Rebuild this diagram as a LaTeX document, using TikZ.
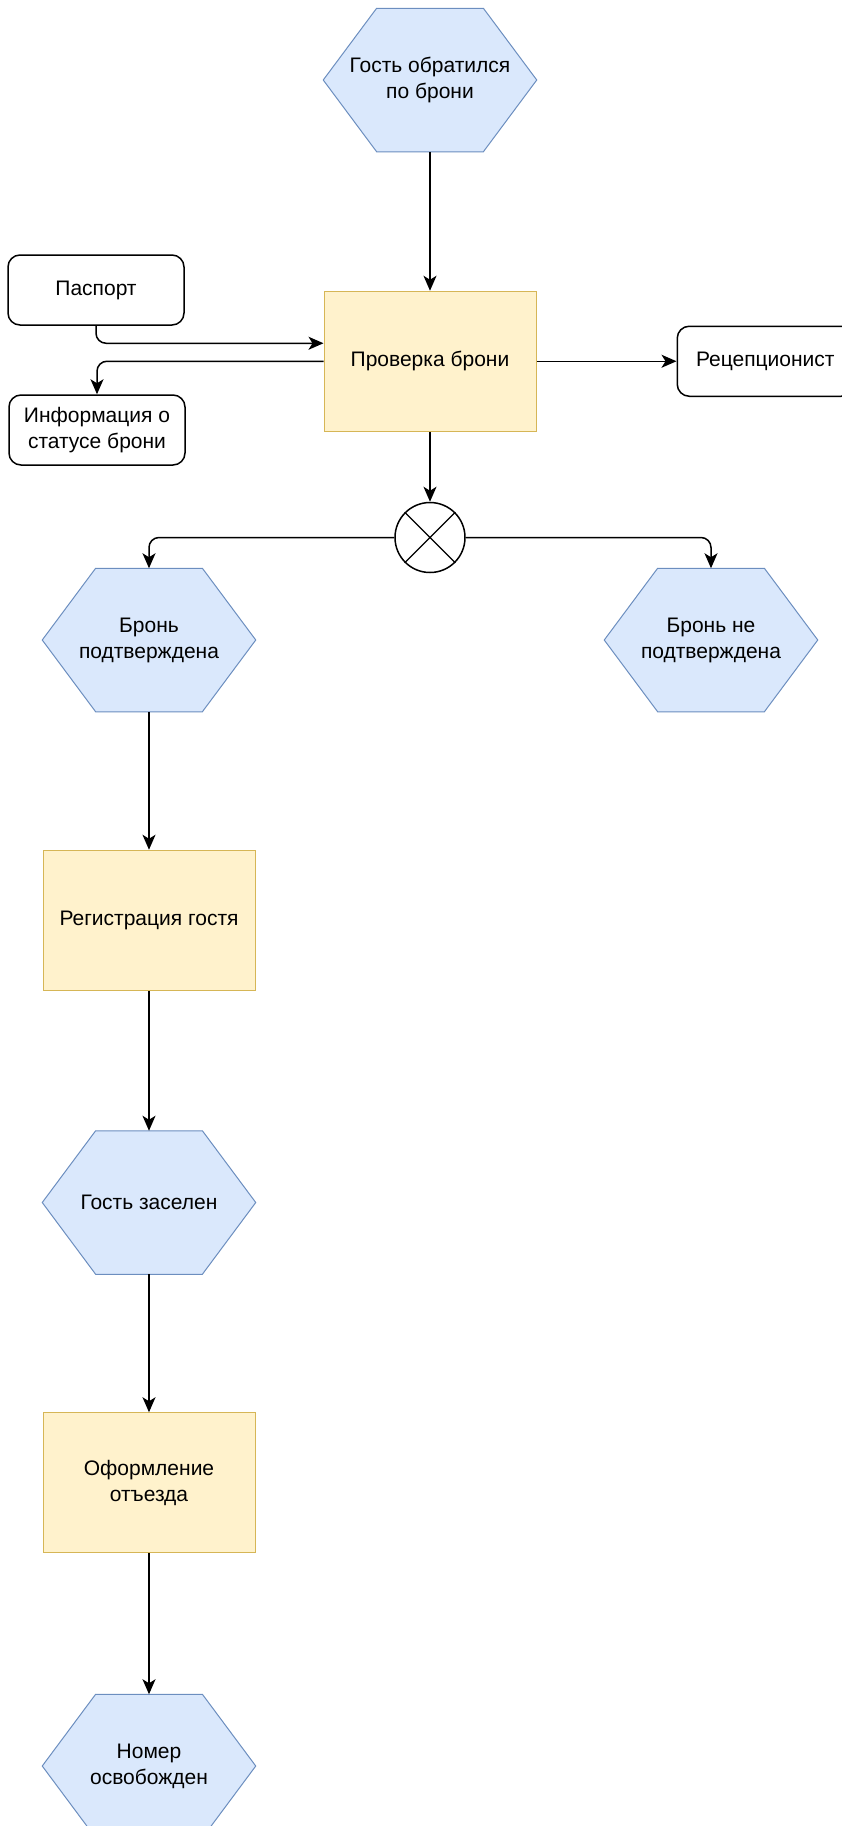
\documentclass[tikz,border=0pt]{standalone}
\usepackage{fontspec}
\setmainfont{Liberation Sans}
\usetikzlibrary{arrows.meta,positioning,calc,backgrounds}
\definecolor{evfill}{HTML}{DAE8FC}
\definecolor{evline}{HTML}{6C8EBF}
\definecolor{fnfill}{HTML}{FFF2CC}
\definecolor{fnline}{HTML}{D6B656}

\begin{document}
\begin{tikzpicture}[
    x=1pt, y=1pt,
    >={Stealth[length=15pt, width=13pt, inset=4pt]},
    line width=1.5pt,
    font=\fontsize{21}{26}\selectfont,
    evbox/.style={minimum width=212pt, minimum height=142pt, align=center, inner sep=0pt},
    fnbox/.style={draw=fnline, line width=1pt, fill=fnfill, minimum width=212pt, minimum height=140pt, align=center},
    docbox/.style={draw, rounded corners=12pt, fill=white, minimum width=176pt, minimum height=70pt, align=center, inner sep=2pt},
    xorgate/.style={draw, circle, minimum size=70pt, inner sep=0pt},
    flow/.style={->, rounded corners=10pt}
]

    \useasboundingbox (0,0) rectangle (842,-1826);

    \node[evbox] (start) at (430,-80) {Гость обратился\\по брони};
    \node[fnbox, below=139pt of start] (check) {Проверка брони};
    \node[xorgate, below=70pt of check] (xor) {};

    \node[docbox] (pass) at (96,-290) {Паспорт};
    \node[docbox] (status) at (97,-430) {Информация о\\статусе брони};
    \node[docbox, right=140pt of check] (recep) {Рецепционист};

    \node[evbox] (conf) at (149,-640) {Бронь\\подтверждена};
    \node[evbox] (notconf) at (711,-640) {Бронь не\\подтверждена};

    \node[fnbox, below=138pt of conf] (register) {Регистрация гостя};
    \node[evbox, below=140pt of register] (settled) {Гость заселен};
    \node[fnbox, below=138pt of settled] (checkout) {Оформление\\отъезда};
    \node[evbox, below=141pt of checkout] (freed) {Номер\\освобожден};

    \begin{scope}[on background layer]
        \foreach \ev in {start, conf, notconf, settled, freed}
            \draw[evline, fill=evfill, line width=1pt]
                (\ev.west) -- ($(\ev.north west)!0.25!(\ev.north east)$)
                -- ($(\ev.north west)!0.75!(\ev.north east)$) -- (\ev.east)
                -- ($(\ev.south west)!0.75!(\ev.south east)$)
                -- ($(\ev.south west)!0.25!(\ev.south east)$) -- cycle;
    \end{scope}

    \draw[line width=1.2pt] (xor.north west) -- (xor.south east)
        (xor.north east) -- (xor.south west);

    \draw[flow] (start) -- (check);
    \draw[flow] (pass.south) |- ($(check.west)+(0,18)$);
    \draw[flow] (check.west) -| (status.north);
    \draw[flow] (check) -- (recep);
    \draw[flow] (check) -- (xor);
    \draw[flow] (xor.west) -| (conf.north);
    \draw[flow] (xor.east) -| (notconf.north);

    \draw[flow] (conf) -- (register);
    \draw[flow] (register) -- (settled);
    \draw[flow] (settled) -- (checkout);
    \draw[flow] (checkout) -- (freed);

\end{tikzpicture}
\end{document}
